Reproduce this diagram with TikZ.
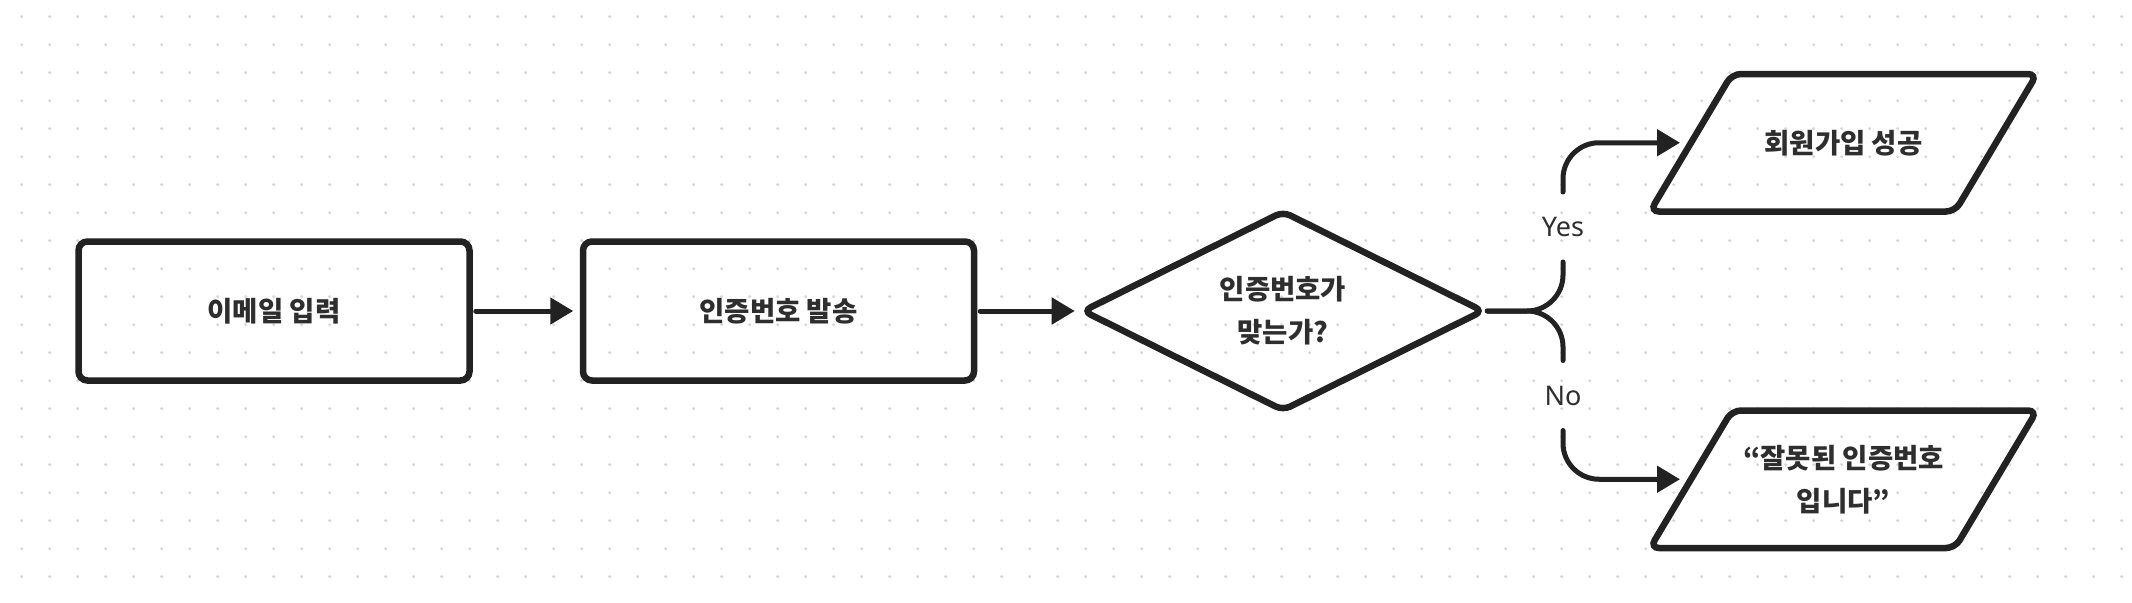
\documentclass[tikz,border=0pt]{standalone}
\usepackage{fontspec}
\usetikzlibrary{shapes.geometric,arrows.meta}
\newfontfamily\krfont{Noto Sans CJK KR}
\newfontfamily\labfont{Noto Sans}
\definecolor{ink}{HTML}{222222}
\definecolor{txtc}{HTML}{2E2E2E}
\definecolor{dotc}{HTML}{D9D9D9}

\begin{document}
\begin{tikzpicture}[x=1pt,y=-1pt]


 \tikzset{
    box/.style={
      rectangle,
      rounded corners=9pt,
      minimum width=391pt,
      minimum height=139pt,
      line width=6.5pt,
      draw=ink
    },
    decision/.style={
      diamond,
      minimum width=402pt,
      minimum height=201pt,
      inner sep=0pt,
      rounded corners=8pt,
      line width=6.5pt,
      draw=ink
    },
    txt/.style={text=txtc, font=\krfont\bfseries\fontsize{27.5}{43}\selectfont, align=center},
    lab/.style={text=txtc, font=\labfont\fontsize{27}{30}\selectfont, minimum height=70pt, inner sep=0pt, outer sep=0pt},
    wire/.style={line width=5pt, draw=ink, line cap=round},
    link/.style={wire, -{Triangle[length=23pt,width=26pt]}}
  }

\useasboundingbox (0,0) rectangle (2132,602);
\fill[white] (0,0) rectangle (2132,602);

\foreach \i in {0,...,75}
    \foreach \j in {0,...,20} {
            \fill[dotc] (21.7+28*\i,16.7+28*\j) circle[radius=1.7pt];
        }



\node[box, txt] (email) at (274,311) {이메일 입력};
\node[box, txt] (send) at (778.5,311) {인증번호 발송};
\node[decision, txt] (check) at (1283,311) {인증번호가\\맞는가?};

\foreach \cy in {142.75,479.25}
    \draw[line width=6.5pt, draw=ink, rounded corners=9pt]
        (1650,\cy+68.75) -- (1955,\cy+68.75) -- (2037,\cy-68.75) -- (1732,\cy-68.75) -- cycle;

\node[txt] (ok) at (1843.5,142.75) {회원가입 성공};
\node[txt] (fail) at (1843.5,479.25) {“잘못된 인증번호\\입니다”};
\coordinate (okin) at (1691,142.75);
\coordinate (failin) at (1691,479.25);

\node[lab] (yes) at (1563,227) {Yes};
\node[lab] (no) at (1563,395.5) {No};

\draw[link, shorten <=3pt, shorten >=6.5pt] (email) -- (send);
\draw[link, shorten <=3pt, shorten >=4pt] (send) -- (check);

\draw[wire, rounded corners=36pt] (check.east) -- (check.east -| yes.south) -- (yes.south);
\draw[wire, rounded corners=36pt] (check.east) -- (check.east -| no.north) -- (no.north);
\draw[link, rounded corners=36pt, shorten >=11pt] (yes.north) -- (yes.north |- ok) -- (okin);
\draw[link, rounded corners=36pt, shorten >=11pt] (no.south) -- (no.south |- fail) -- (failin);

\end{tikzpicture}
\end{document}
